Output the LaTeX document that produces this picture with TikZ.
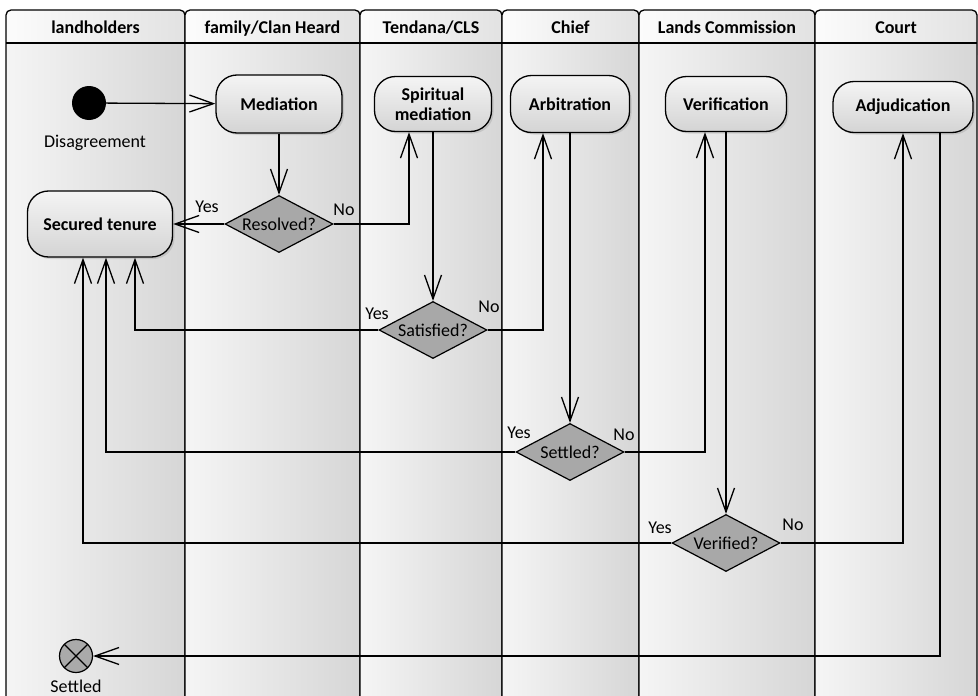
\documentclass[tikz,border=0pt]{standalone}
\usepackage{fontspec}
\setmainfont{Carlito}
\usepackage{tikz}
\usetikzlibrary{arrows.meta,shapes.geometric,shadows}

\definecolor{laneL}{RGB}{245,245,245}
\definecolor{laneR}{RGB}{214,214,214}
\definecolor{headL}{RGB}{252,252,252}
\definecolor{headR}{RGB}{226,226,226}
\definecolor{actT}{RGB}{244,244,244}
\definecolor{actB}{RGB}{212,212,212}
\definecolor{decG}{RGB}{168,168,168}
\definecolor{finG}{RGB}{170,170,170}

\begin{document}
\begin{tikzpicture}[x=1pt, y=-1pt, font=\fontsize{18}{20}\selectfont,
  action/.style={rectangle, draw, line width=1.3pt, rounded corners=21pt, top color=actT, bottom color=actB, font=\fontsize{18}{20}\selectfont\bfseries, align=center, drop shadow={opacity=0.25, shadow xshift=2pt, shadow yshift=-2pt}},
  decision/.style={diamond, draw, line width=1.2pt, fill=decG, aspect=2, inner sep=-3pt, minimum width=108pt, minimum height=57pt},
  flow/.style={line width=1.3pt, -{Straight Barb[length=24pt, width=17pt]}}]
\useasboundingbox (0,0) rectangle (978,696);
\clip (0,0) rectangle (978,696);

% swimlanes
\foreach \xa/\xb/\lname/\ltext in {6/185/land/landholders, 185/360/clan/{family/Clan Heard}, 360/502/tend/{Tendana/CLS}, 502/639/chief/Chief, 639/815/lands/{Lands Commission}, 815/977/court/Court}{
  \fill[rounded corners=5pt, left color=headL, right color=headR] (\xa,10) rectangle (\xb,60);
  \fill[left color=laneL, right color=laneR] (\xa,43) rectangle (\xb,710);
  \draw[line width=1.3pt, rounded corners=5pt] (\xa,710) -- (\xa,10) -- (\xb,10) -- (\xb,710);
  \draw[line width=1.3pt] (\xa,43) -- (\xb,43);
  \node[anchor=base, font=\fontsize{18}{20}\selectfont\bfseries] (h\lname) at ({(\xa+\xb)/2},34) {\ltext};
}

\node[circle, fill=black, minimum size=34pt, inner sep=0pt] (start) at (89,103) {};
\node (startlab) at (95,143) {Disagreement};
\node[action, minimum width=126pt, minimum height=58pt] (med) at (279,104) {Mediation};
\node[action, minimum width=117pt, minimum height=55pt] (spir) at (433,104) {Spiritual\\mediation};
\node[action, minimum width=119pt, minimum height=57pt] (arb) at (570,104) {Arbitration};
\node[action, minimum width=121pt, minimum height=55pt] (verif) at (726,104) {Verification};
\node[action, minimum width=140pt, minimum height=51pt] (adj) at (903,107) {Adjudication};
\node[action, minimum width=145pt, minimum height=66pt] (sec) at (100,224) {Secured tenure};

\node[decision] (res) at (279,224) {Resolved?};
\node[decision] (sat) at (433,330) {Satisfied?};
\node[decision] (stl) at (570,452) {Settled?};
\node[decision] (vfd) at (726,543) {Verified?};

\node[circle, draw, line width=1.2pt, fill=finG, minimum size=33pt, inner sep=0pt, path picture={\draw[line width=1.2pt] (path picture bounding box.north west) -- (path picture bounding box.south east) (path picture bounding box.south west) -- (path picture bounding box.north east);}] (fin) at (76,656) {};
\node (finlab) at (76,686) {Settled};

\node (yes1) at (207,207) {Yes};
\node (no1) at (344,210) {No};
\node (yes2) at (377,314) {Yes};
\node (no2) at (489,307) {No};
\node (yes3) at (519,433) {Yes};
\node (no3) at (624,435) {No};
\node (yes4) at (660,528) {Yes};
\node (no4) at (793,525) {No};

\draw[flow] (start) -- (med);
\draw[flow] (med) -- (res);
\draw[flow] (res.west) -- (sec.east);
\draw[flow] (res.east) -| ([xshift=-24pt]spir.south);
\draw[flow] (spir) -- (sat);
\draw[flow] (sat.west) -| ([xshift=35pt]sec.south);
\draw[flow] (sat.east) -| ([xshift=-27pt]arb.south);
\draw[flow] (arb) -- (stl);
\draw[flow] (stl.west) -| ([xshift=6pt]sec.south);
\draw[flow] (stl.east) -| ([xshift=-21pt]verif.south);
\draw[flow] (verif) -- (vfd);
\draw[flow] (vfd.west) -| ([xshift=-17pt]sec.south);
\draw[flow] (vfd.east) -| (adj.south);
\draw[flow] ([xshift=37pt]adj.south) |- (fin.east);

\end{tikzpicture}
\end{document}
